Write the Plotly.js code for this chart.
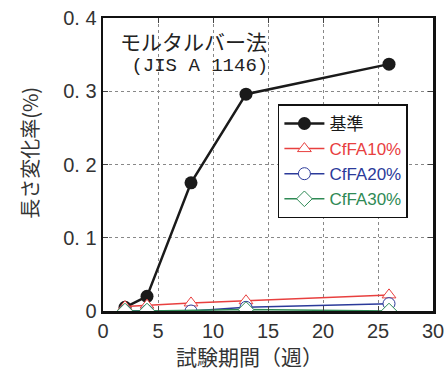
<!DOCTYPE html>
<html><head><meta charset="utf-8">
<script src="https://cdn.plot.ly/plotly-3.0.1.min.js"></script>
<style>html,body{margin:0;padding:0;background:#fff}#c{width:447px;height:371px}</style>
</head><body><div id="c"></div>
<script>
const weeks = [2, 4, 8, 13, 26];
const seriesNames = ['基準', 'CfFA10%', 'CfFA20%', 'CfFA30%'];
const kijun = [0.005, 0.020, 0.175, 0.296, 0.337];
const cffa10 = [0.006, 0.008, 0.011, 0.014, 0.022];
const cffa20 = [0.000, 0.000, 0.000, 0.005, 0.010];
const cffa30 = [0.000, 0.000, null, 0.002, 0.000];
const yTickVals = [0, 0.1, 0.2, 0.3, 0.4];
const yTickText = ['0', '0. 1', '0. 2', '0. 3', '0. 4'];
const xTickVals = [0, 5, 10, 15, 20, 25, 30];
const xTitle = '試験期間（週）';
const yTitle = '長さ変化率(%)';
const noteLines = ['モルタルバー法', '(JIS A 1146)'];

const font = 'Liberation Sans, Noto Sans CJK JP, sans-serif';
const mono = 'Liberation Mono, DejaVu Sans Mono, monospace';
const cjk = 'Noto Sans CJK JP, sans-serif';
const colors = ['#1a1a1a', '#e8403f', '#2b3a9a', '#2f8a55'];
const symbols = ['circle', 'triangle-up', 'circle', 'diamond'];
const data = [kijun, cffa10, cffa20, cffa30];

const traces = data.map((ys, i) => ({
  x: weeks, y: ys, name: '<span style="color:' + colors[i] + '">' + seriesNames[i] + '</span>',
  type: 'scatter', mode: 'lines+markers', connectgaps: true,
  line: {color: colors[i], width: i === 0 ? 2.5 : 1.5},
  marker: i === 0 ? {symbol: 'circle', size: 13, color: colors[0]}
                  : {symbol: symbols[i], size: 12, color: '#ffffff', line: {color: colors[i], width: 1}}
}));

const noteText = '<span style="font-size:21px">' + noteLines[0] + '</span><br><span style="font-family:' + mono + ';font-size:19px"> ' + noteLines[1] + '</span>';

const layout = {
  width: 447, height: 371,
  margin: {l: 103, r: 14, t: 18, b: 60},
  paper_bgcolor: '#fff', plot_bgcolor: '#fff',
  showlegend: true,
  legend: {x: 0.53, y: 0.705, xanchor: 'left', yanchor: 'top', bgcolor: '#fff',
    bordercolor: '#111', borderwidth: 1.5, font: {family: font, size: 17},
    itemwidth: 40, tracegroupgap: 0},
  xaxis: {range: [0, 30], tickvals: xTickVals, ticks: 'inside', ticklen: 5, mirror: 'ticks',
    showline: true, linecolor: '#111', linewidth: 2.5, showgrid: true, gridcolor: '#888',
    griddash: 'dot', gridwidth: 1, zeroline: false,
    tickfont: {family: font, size: 20, color: '#333'}},
  yaxis: {range: [0, 0.4], tickvals: yTickVals, ticktext: yTickText, ticks: 'inside', ticklen: 5,
    mirror: 'ticks', showline: true, linecolor: '#111', linewidth: 2.5, showgrid: true,
    gridcolor: '#888', griddash: 'dot', gridwidth: 1, zeroline: false,
    tickfont: {family: font, size: 20, color: '#333'}},
  annotations: [
    {text: noteText, x: 0.045, y: 0.884, xref: 'paper', yref: 'paper', xanchor: 'left', yanchor: 'middle',
     align: 'left', showarrow: false, font: {family: cjk, size: 16, color: '#222'}},
    {text: xTitle, x: 0.445, y: -0.155, xref: 'paper', yref: 'paper', xanchor: 'center', yanchor: 'middle',
     showarrow: false, font: {family: cjk, size: 21, color: '#333'}},
    {text: yTitle, x: -0.221, y: 0.54, xref: 'paper', yref: 'paper', xanchor: 'center', yanchor: 'middle',
     textangle: -90, showarrow: false, font: {family: cjk, size: 20, color: '#333'}}
  ]
};
Plotly.newPlot('c', traces, layout, {displayModeBar: false, staticPlot: true});
</script></body></html>
